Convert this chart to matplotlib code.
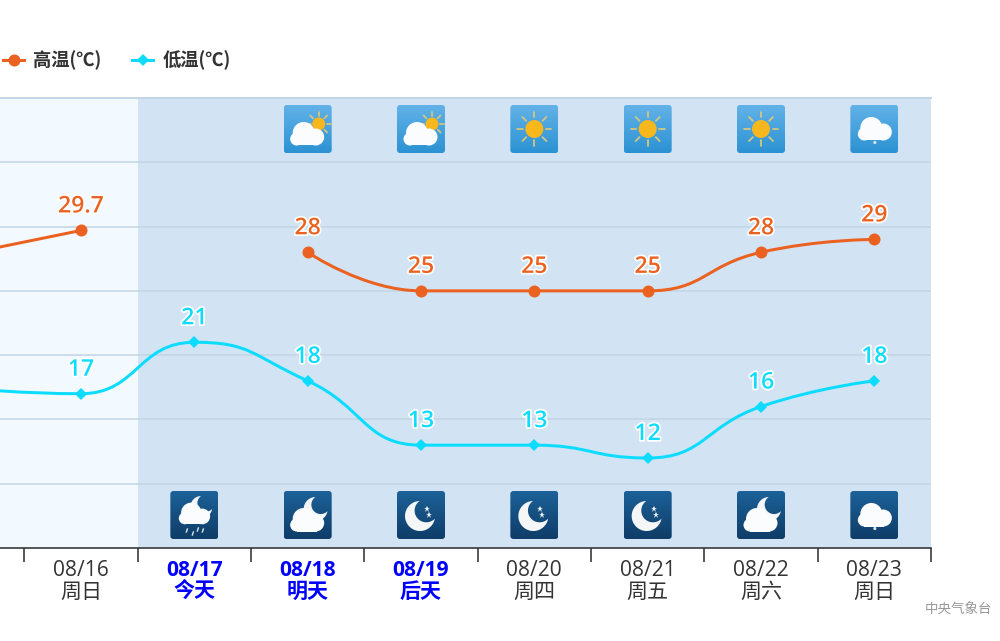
import numpy as np
import matplotlib
matplotlib.use("Agg")
import matplotlib.pyplot as plt
import matplotlib.patheffects as pe
from matplotlib.lines import Line2D
from matplotlib.patches import Circle, FancyBboxPatch, PathPatch, Polygon, Rectangle
from matplotlib.path import Path

plt.rcParams['font.family'] = ['Noto Sans CJK SC', 'DejaVu Sans']
LATIN_CJK = ['Open Sans', 'Noto Sans CJK SC']

dates = ['08/15', '08/16', '08/17', '08/18', '08/19', '08/20', '08/21', '08/22', '08/23']
weekdays = ['周六', '周日', '今天', '明天', '后天', '周四', '周五', '周六', '周日']
high_temp = [27.9, 29.7, np.nan, 28, 25, 25, 25, 28, 29]
low_temp = [17.4, 17, 21, 18, 13, 13, 12, 16, 18]
day_icons = [None, None, None, 'partly', 'partly', 'sun', 'sun', 'sun', 'shower']
night_icons = [None, None, 'moon_rain', 'moon_cloud', 'moon', 'moon', 'moon', 'moon_cloud', 'shower']
highlighted = ['08/17', '08/18', '08/19']

HIGH_COLOR = '#EB6120'
LOW_COLOR = '#0CDCFF'
GRID_COLOR = '#C4D5E6'
px = 72 / 100  # one pixel in points


def smooth_path(xs, ys, smooth=0.5):
    """ Bezier path through the points, tangents flattened at peaks and plateaus """
    n = len(xs)
    dy = np.zeros(n)
    dx = np.zeros(n)
    for i in range(1, n - 1):
        dx[i] = (xs[i + 1] - xs[i - 1]) * smooth / 2
        d = (ys[i + 1] - ys[i - 1]) * smooth / 2
        d = np.clip(ys[i] + d, min(ys[i], ys[i + 1]), max(ys[i], ys[i + 1])) - ys[i]
        d = ys[i] - np.clip(ys[i] - d, min(ys[i], ys[i - 1]), max(ys[i], ys[i - 1]))
        dy[i] = d
    verts = [(xs[0], ys[0])]
    codes = [Path.MOVETO]
    for i in range(n - 1):
        verts += [(xs[i] + dx[i], ys[i] + dy[i]), (xs[i + 1] - dx[i + 1], ys[i + 1] - dy[i + 1]), (xs[i + 1], ys[i + 1])]
        codes += [Path.CURVE4] * 3
    return Path(verts, codes)


def draw_series(ax, values, color, marker, size):
    x = np.arange(len(values)) - 1.0
    y = np.array(values, dtype=float)
    # split on the gaps
    good = ~np.isnan(y)
    start = 0
    while start < len(y):
        if not good[start]:
            start += 1
            continue
        end = start
        while end + 1 < len(y) and good[end + 1]:
            end += 1
        if end > start:
            ax.add_patch(PathPatch(smooth_path(x[start:end + 1], y[start:end + 1]), fill=False,
                                   edgecolor=color, lw=3 * px, zorder=4))
        start = end + 1
    ax.plot(x[good], y[good], ls='none', marker=marker, ms=size * px, color=color, mew=0, zorder=5)
    for xi, yi in zip(x[good], y[good]):
        if xi < 0:  # the day left of the frame has no visible label
            continue
        label = ('%.1f' % yi) if yi != int(yi) else str(int(yi))
        t = ax.annotate(label, (xi, yi), xytext=(0, 24 * px), textcoords='offset points',
                        ha='center', va='center', color=color, fontsize=23 * px,
                        family='Open Sans', fontweight='semibold', zorder=6)
        t.set_path_effects([pe.withStroke(linewidth=3.5 * px, foreground='white')])


def cloud(ia, cx=0, cy=0, scale=1.0, color='#FBFCFD'):
    for bx, by, r in [(20, 28, 11), (32, 32, 8.5), (13, 34, 6.5)]:
        ia.add_patch(Circle((cx + bx * scale, cy + by * scale), r * scale, color=color, lw=0, zorder=3))
    ia.add_patch(Rectangle((cx + 13 * scale, cy + 30 * scale), 20 * scale, 10.5 * scale, color=color, lw=0, zorder=3))


def sun(ia, x, y, r, ray_in, ray_out):
    for a in np.deg2rad(np.arange(0, 360, 45)):
        ia.plot([x + ray_in * np.cos(a), x + ray_out * np.cos(a)], [y + ray_in * np.sin(a), y + ray_out * np.sin(a)],
                color='#D5C67E', lw=1.8 * px, solid_capstyle='round', zorder=2)
    ia.add_patch(Circle((x, y), r, color='#F7B71D', lw=0, zorder=2.5))


def crescent(ia, x, y, r):
    """ Outer circle minus a smaller one shifted to the upper right """
    ix, iy, ir = x + r * 0.42, y - r * 0.36, r * 0.78
    d = np.hypot(ix - x, iy - y)
    phi = np.arctan2(iy - y, ix - x)
    alpha = np.arccos((d ** 2 + r ** 2 - ir ** 2) / (2 * d * r))
    gamma = np.arccos((d ** 2 + ir ** 2 - r ** 2) / (2 * d * ir))
    outer = np.linspace(phi + alpha, phi + 2 * np.pi - alpha, 80)
    inner = np.linspace(phi + np.pi + gamma, phi + np.pi - gamma, 50)
    pts = np.r_[np.c_[x + r * np.cos(outer), y + r * np.sin(outer)],
                np.c_[ix + ir * np.cos(inner), iy + ir * np.sin(inner)]]
    ia.add_patch(Polygon(pts, closed=True, color='#F4F6F8', lw=0, zorder=2))


def draw_icon(ax, i, kind, y0, night):
    """ One 48 px weather tile, local coordinates are pixels """
    ia = ax.inset_axes([i - 1 - 24 / 113.3, y0, 48 / 113.3, 48 / 450], transform=ax.get_xaxis_transform(), zorder=7)
    ia.axis('off')
    ia.patch.set_alpha(0)
    top, bottom = ('#1C6198', '#0F3D68') if night else ('#62B2E8', '#2C92D3')
    cmap = matplotlib.colors.LinearSegmentedColormap.from_list('tile', [top, bottom])
    im = ia.imshow(np.linspace(0, 1, 48)[:, None], cmap=cmap, extent=(0, 48, 48, 0), aspect='auto', zorder=1)
    ia.set_xlim(0, 48)
    ia.set_ylim(48, 0)
    box = FancyBboxPatch((2, 2), 44, 44, boxstyle='round,pad=2,rounding_size=3', fc='none', ec='none')
    ia.add_patch(box)
    im.set_clip_path(box)
    if kind == 'sun':
        sun(ia, 24, 24, 9, 11.5, 17)
    elif kind == 'partly':
        sun(ia, 35, 19, 6.5, 8, 12)
        cloud(ia, 0, 0)
    elif kind == 'shower':
        cloud(ia, 1, -5)
        ia.add_patch(Circle((24.5, 37.5), 1.6, color='#D9E2EA', lw=0, zorder=3))
    elif kind == 'moon':
        crescent(ia, 23, 25, 15)
        ia.plot([30, 32], [18, 24], ls='none', marker='*', ms=7 * px, color='#F4F6F8', mew=0, zorder=3)
    elif kind == 'moon_cloud':
        crescent(ia, 32, 18, 12)
        cloud(ia, 0, 0)
    elif kind == 'moon_rain':
        crescent(ia, 31, 16, 11)
        cloud(ia, 2.5, -4, 0.92)
        for dx, dy in [(17, 38), (23, 41), (28, 37), (33, 38)]:
            ia.plot([dx, dx - 1], [dy, dy + 3], color='#D9E2EA', lw=1.4 * px, zorder=3)


fig = plt.figure(figsize=(10, 6.41), dpi=100, facecolor='white')
ax = fig.add_axes([0, (641 - 548) / 641, 0.931, 450 / 641])
ax.set_facecolor('#F3FAFF')
ax.axvspan(0.5, 7.5, color='#D2E3F4', lw=0, zorder=0)

ax.set_yticks(np.arange(10, 40, 5))
ax.tick_params(axis='y', length=0, labelleft=False)
ax.grid(axis='y', color=GRID_COLOR, lw=1.6 * px, zorder=1)
ax.set_axisbelow(True)
for side in ['left', 'right']:
    ax.spines[side].set_visible(False)
ax.spines['top'].set_color(GRID_COLOR)
ax.spines['top'].set_linewidth(2 * px)
ax.spines['bottom'].set_color('#333333')
ax.spines['bottom'].set_linewidth(1.6 * px)

positions = np.arange(len(dates)) - 1.0
ax.set_xticks(positions + 0.5)
ax.set_xticklabels([])
ax.set_xticks(positions, minor=True)
ax.set_xticklabels([d + '\n' + w for d, w in zip(dates, weekdays)], minor=True, linespacing=1.03,
                   fontsize=21 * px, family=LATIN_CJK)
ax.tick_params(axis='x', which='major', length=14 * px, width=1.6 * px, color='#333333')
ax.tick_params(axis='x', which='minor', length=0, pad=12 * px, labelcolor='#333333')
for d, label in zip(dates, ax.get_xticklabels(minor=True)):
    if d in highlighted:
        label.set_color('#0000FF')
        label.set_fontweight('bold')

draw_series(ax, high_temp, HIGH_COLOR, 'o', 12)
draw_series(ax, low_temp, LOW_COLOR, 'D', 8)

ax.set_xlim(-81 / 113.3, 7.5)
ax.set_ylim(5, 40)

for i, kind in enumerate(day_icons):
    if kind:
        draw_icon(ax, i, kind, (548 - 153) / 450, False)
for i, kind in enumerate(night_icons):
    if kind:
        draw_icon(ax, i, kind, (548 - 539) / 450, True)

handles = [Line2D([], [], color=HIGH_COLOR, marker='o', lw=3 * px, ms=12 * px, mew=0),
           Line2D([], [], color=LOW_COLOR, marker='D', lw=3 * px, ms=8 * px, mew=0)]
fig.legend(handles, ['高温(℃)', '低温(℃)'], loc='center left', bbox_to_anchor=(0.003, 1 - 60 / 641), ncols=2,
           frameon=False, handlelength=1.15, handletextpad=0.49, columnspacing=1.7, borderpad=0, borderaxespad=0,
           prop={'size': 18.3 * px, 'weight': 'bold'}, labelcolor='#333333')

fig.text(992 / 1000, 1 - 610 / 641, '中央气象台', ha='right', va='center', color='#999999', fontsize=13.5 * px)

fig.savefig('out.png', dpi=100)
